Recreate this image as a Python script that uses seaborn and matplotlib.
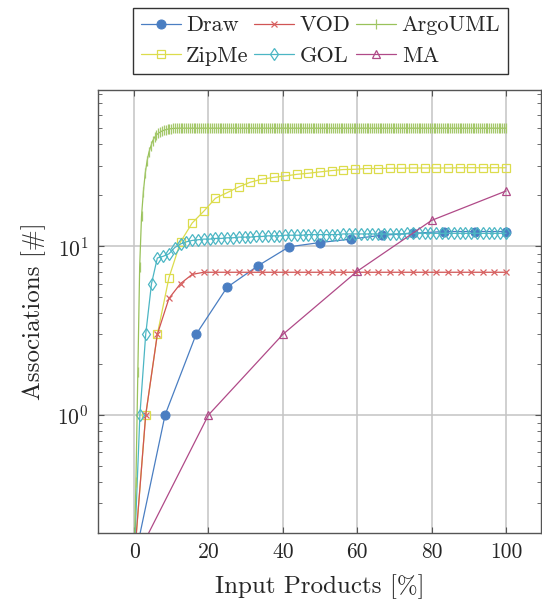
import numpy as np
import pandas as pd
import matplotlib
matplotlib.use("Agg")
import matplotlib.pyplot as plt
import seaborn as sns
from matplotlib.ticker import LogLocator, LogFormatterMathtext, NullFormatter, FixedLocator

# ---------------- data ----------------
draw_x = [0, 8.333, 16.667, 25, 33.333, 41.667, 50, 58.333, 66.667, 75, 83.333, 91.667, 100]
draw_y = [0.135, 1, 3, 5.7, 7.65, 9.9, 10.5, 11.0, 11.6, 11.9, 12.2, 12.2, 12.2]

vod_x = [i * 3.125 for i in range(33)]
vod_y = [0.135, 1, 3, 4.9, 6.0, 6.8, 7.0, 7.0, 7.0, 7.0, 7.0, 7.0, 7.0, 7.0, 7.0, 7.0, 7.0,
         7.0, 7.0, 7.0, 7.0, 7.0, 7.0, 7.0, 7.0, 7.0, 7.0, 7.0, 7.0, 7.0, 7.0, 7.0, 7.0]

zipme_x = [i * 3.125 for i in range(33)]
zipme_y = [0.135, 1, 3, 6.5, 10.6, 13.7, 16.1, 19.2, 20.7, 22.4, 23.9, 24.9, 25.5, 26.0, 26.6,
           27.0, 27.5, 28.0, 28.4, 28.5, 28.8, 28.8, 28.9, 28.9, 29.0, 29.0, 29.0, 29.0, 29.1,
           29.1, 29.1, 29.1, 29.1]

gol_x = [i * 1.5625 for i in range(65)]
gol_y = [0.135, 1, 3, 6.0, 8.5, 8.7, 9.0, 9.8, 10.3, 10.6, 10.8, 10.9, 11.0, 11.0, 11.1, 11.1,
         11.2, 11.2, 11.3, 11.3, 11.3, 11.4, 11.4, 11.5, 11.5, 11.5, 11.6, 11.6, 11.6, 11.6,
         11.7, 11.7, 11.7, 11.7, 11.7, 11.7, 11.8, 11.8, 11.8, 11.8, 11.8, 11.8, 11.8, 11.8,
         11.8, 11.8, 11.8, 11.9, 11.9, 11.9, 11.9, 11.9, 11.9, 11.9, 11.9, 11.9, 11.9, 11.9,
         11.9, 11.9, 11.9, 11.9, 11.9, 11.9, 11.9]

ma_x = [0, 20, 40, 60, 80, 100]
ma_y = [0.135, 1, 3, 7.1, 14.2, 21.2]

argo_x = [i * 0.5 for i in range(201)]
argo_y = [0.135, 0.4, 1.8, 7.5, 15, 21, 27, 32, 36, 39,
          42, 44, 45.5, 46.5, 47.3, 48, 48.5, 48.9, 49.2, 49.4,
          49.6, 49.7, 49.8, 49.9, 49.9, 49.9, 49.9, 49.9, 49.9, 49.9,
          49.9, 49.9, 49.9, 49.9, 49.9, 49.9, 49.9, 49.9, 49.9, 49.9,
          49.9, 49.9, 49.9, 49.9, 49.9, 49.9, 49.9, 49.9, 49.9, 49.9,
          49.9, 49.9, 49.9, 49.9, 49.9, 49.9, 49.9, 49.9, 49.9, 49.9,
          49.9, 49.9, 49.9, 49.9, 49.9, 49.9, 49.9, 49.9, 49.9, 49.9,
          49.9, 49.9, 49.9, 49.9, 49.9, 49.9, 49.9, 49.9, 49.9, 49.9,
          49.9, 49.9, 49.9, 49.9, 49.9, 49.9, 49.9, 49.9, 49.9, 49.9,
          49.9, 49.9, 49.9, 49.9, 49.9, 49.9, 49.9, 49.9, 49.9, 49.9,
          49.9, 49.9, 49.9, 49.9, 49.9, 49.9, 49.9, 49.9, 49.9, 49.9,
          49.9, 49.9, 49.9, 49.9, 49.9, 49.9, 49.9, 49.9, 49.9, 49.9,
          49.9, 49.9, 49.9, 49.9, 49.9, 49.9, 49.9, 49.9, 49.9, 49.9,
          49.9, 49.9, 49.9, 49.9, 49.9, 49.9, 49.9, 49.9, 49.9, 49.9,
          49.9, 49.9, 49.9, 49.9, 49.9, 49.9, 49.9, 49.9, 49.9, 49.9,
          49.9, 49.9, 49.9, 49.9, 49.9, 49.9, 49.9, 49.9, 49.9, 49.9,
          49.9, 49.9, 49.9, 49.9, 49.9, 49.9, 49.9, 49.9, 49.9, 49.9,
          49.9, 49.9, 49.9, 49.9, 49.9, 49.9, 49.9, 49.9, 49.9, 49.9,
          49.9, 49.9, 49.9, 49.9, 49.9, 49.9, 49.9, 49.9, 49.9, 49.9,
          49.9, 49.9, 49.9, 49.9, 49.9, 49.9, 49.9, 49.9, 49.9, 49.9,
          49.9]

x_ticks = [0, 20, 40, 60, 80, 100]

# ---------------- style ----------------
sns.set_theme(style="white")
plt.rcParams["font.family"] = ["cmr10", "DejaVu Serif"]
plt.rcParams["mathtext.fontset"] = "cm"
plt.rcParams["axes.formatter.use_mathtext"] = True
plt.rcParams["axes.unicode_minus"] = False

fig = plt.figure(figsize=(5.42, 6.03), dpi=100)
ax = fig.add_axes([98 / 542, 1 - 533 / 603, (541 - 98) / 542, (533 - 90) / 603])

series = [
    ("Draw", draw_x, draw_y, "#4a7ec2", dict(marker="o", ms=6.5, mfc="#4a7ec2", mec="#4a7ec2")),
    ("ZipMe", zipme_x, zipme_y, "#dcdc4c", dict(marker="s", ms=6.0, mfc="none", mec="#dcdc4c", mew=0.9)),
    ("VOD", vod_x, vod_y, "#d05454", dict(marker="x", ms=5.0, mec="#d86464", mew=0.9)),
    ("GOL", gol_x, gol_y, "#4cb6c4", dict(marker="d", ms=6.5, mfc="none", mec="#4cb6c4", mew=0.9)),
    ("ArgoUML", argo_x, argo_y, "#99c25a", dict(marker="|", ms=7.0, mec="#a4c86a", mew=0.9)),
    ("MA", ma_x, ma_y, "#b04a88", dict(marker="^", ms=6.0, mfc="none", mec="#b04a88", mew=0.9)),
]

for name, xs, ys, col, mk in series:
    df = pd.DataFrame({"x": xs, "y": ys})
    sns.lineplot(data=df, x="x", y="y", ax=ax, color=col, lw=0.9, label=name,
                 estimator=None, sort=False, **mk)

ax.set_yscale("log")
ax.set_xlim(-9.7, 109.4)
ax.set_ylim(0.2, 84)

ax.xaxis.set_major_locator(FixedLocator(x_ticks))
ax.set_xticklabels([str(t) for t in x_ticks])
ax.yaxis.set_major_locator(LogLocator(base=10, numticks=10))
ax.yaxis.set_major_formatter(LogFormatterMathtext())
ax.yaxis.set_minor_locator(LogLocator(base=10, subs=np.arange(2, 10), numticks=20))
ax.yaxis.set_minor_formatter(NullFormatter())

ax.grid(True, which="major", color="#c4c4c4", lw=1.1)
ax.set_axisbelow(True)
for s in ax.spines.values():
    s.set_color("#555555")
    s.set_linewidth(1.0)

ax.tick_params(axis="both", which="major", direction="in", length=4.5, width=0.8,
               color="#555555", labelsize=15.5, top=True, right=True, bottom=True, left=True,
               pad=7)
ax.tick_params(axis="y", which="minor", direction="in", length=2.7, width=0.6,
               color="#555555", left=True, right=True)

ax.set_xlabel("Input Products [%]", fontsize=18, labelpad=9)
ax.set_ylabel("Associations [#]", fontsize=18, labelpad=8)

handles, labels = ax.get_legend_handles_labels()
if ax.legend_ is not None:
    ax.legend_.remove()
leg = fig.legend(handles, labels, ncol=3, loc="upper center",
                 bbox_to_anchor=(320.5 / 542, 1 - 8 / 603), fontsize=16,
                 frameon=True, fancybox=False, edgecolor="black",
                 handlelength=1.8, handletextpad=0.25, columnspacing=0.25,
                 borderpad=0.35, labelspacing=0.5, borderaxespad=0)
leg.get_frame().set_linewidth(1.0)

fig.savefig("out.png", dpi=100)
